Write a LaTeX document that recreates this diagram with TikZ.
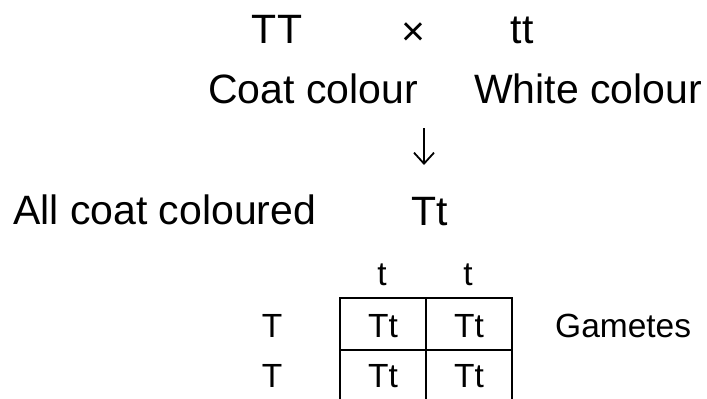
\documentclass[tikz,border=0pt]{standalone}
\usepackage{fontspec}
\setmainfont{Liberation Sans}
\usetikzlibrary{arrows.meta}
\begin{document}
\begin{tikzpicture}[x=1pt,y=-1pt,
  big/.style={inner sep=0pt,anchor=base,font=\fontsize{41}{48}\selectfont},
  small/.style={inner sep=0pt,anchor=base,font=\fontsize{33.5}{40}\selectfont},
  gridline/.style={line width=2pt}]
\useasboundingbox (0,0) rectangle (707,399);
% top row
\node[big] (TT) at (277,43) {TT};
\node[big,anchor=center] (cross) at (413,34) {×};
\node[big] (tt) at (522,43) {tt};
\node[big,anchor=base west] (coat) at (208,103) {Coat colour};
\node[big,anchor=base west] (white) at (474,103) {White colour};
% arrow
\coordinate (atop) at (424,128);
\coordinate (abot) at (424,165);
\draw[line width=1.8pt,-{Straight Barb[length=11pt,width=20pt,line width=1.8pt]}] (atop) -- (abot);
% F1
\node[big,anchor=base west] (all) at (13,224) {All coat coloured};
\node[big] (F1) at (430,225) {Tt};
% Punnett square
\node[small] (g1) at (382,285) {t};
\node[small] (g2) at (468,285) {t};
\node[small] (r1) at (272,337) {T};
\node[small] (r2) at (272,387) {T};
\node[small] (c11) at (383,337) {Tt};
\node[small] (c12) at (469,337) {Tt};
\node[small] (c21) at (383,387) {Tt};
\node[small] (c22) at (469,387) {Tt};
\node[small,anchor=base west] (gam) at (555,337) {Gametes};
\begin{scope}
\clip (0,0) rectangle (707,399);
\draw[gridline] (340,298) rectangle (512,402);
\draw[gridline] (426,298) -- (426,402);
\draw[gridline] (340,350) -- (512,350);
\end{scope}
\end{tikzpicture}
\end{document}
